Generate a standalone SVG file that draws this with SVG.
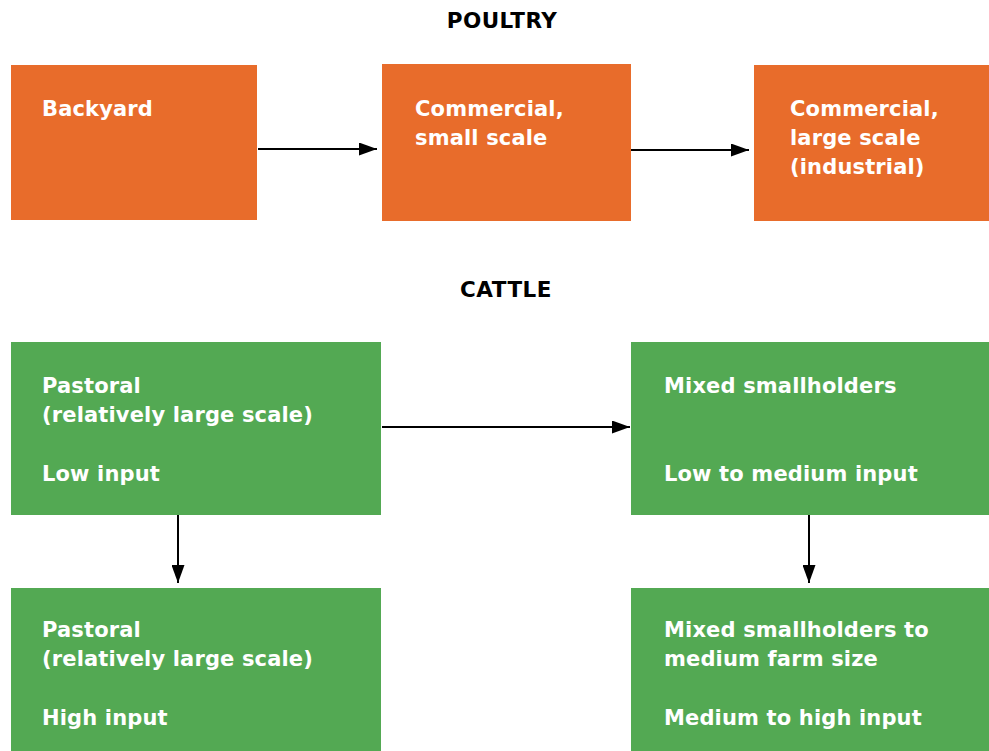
<svg xmlns="http://www.w3.org/2000/svg" width="989" height="751" viewBox="0 0 989 751">
<defs>
<style>
.t{font-family:"DejaVu Sans",Verdana,sans-serif;font-weight:bold;font-size:21px;letter-spacing:0.15px;fill:#ffffff}
.h{font-family:"DejaVu Sans",Verdana,sans-serif;font-weight:bold;font-size:21.5px;letter-spacing:0.5px;fill:#000000;text-anchor:middle}
.o{fill:#E86C2B}
.g{fill:#53A953}
.c{stroke:#000;stroke-width:2;fill:none;marker-end:url(#ah)}
</style>
<marker id="ah" viewBox="0 0 18 13" refX="18" refY="6.5" markerWidth="18" markerHeight="13" markerUnits="userSpaceOnUse" orient="auto"><path d="M0,0 L18,6.5 L0,13 z" fill="#000"/></marker>
</defs>
<rect width="989" height="751" fill="#fff"/>
<text class="h" x="502" y="28">POULTRY</text>
<text class="h" x="506" y="297">CATTLE</text>
<g id="backyard"><rect class="o" x="11" y="65" width="246" height="155"/><text class="t" x="42" y="116">Backyard</text></g>
<g id="commercial-small"><rect class="o" x="382" y="64" width="249" height="157"/><text class="t" x="415" y="116">Commercial,</text><text class="t" x="415" y="145">small scale</text></g>
<g id="commercial-large"><rect class="o" x="754" y="65" width="235" height="156"/><text class="t" x="790" y="116">Commercial,</text><text class="t" x="790" y="145">large scale</text><text class="t" x="790" y="174">(industrial)</text></g>
<g id="pastoral-low"><rect class="g" x="11" y="342" width="370" height="173"/><text class="t" x="42" y="393">Pastoral</text><text class="t" x="42" y="422">(relatively large scale)</text><text class="t" x="42" y="481">Low input</text></g>
<g id="mixed-low"><rect class="g" x="631" y="342" width="358" height="173"/><text class="t" x="664" y="393">Mixed smallholders</text><text class="t" x="664" y="481">Low to medium input</text></g>
<g id="pastoral-high"><rect class="g" x="11" y="588" width="370" height="163"/><text class="t" x="42" y="637">Pastoral</text><text class="t" x="42" y="666">(relatively large scale)</text><text class="t" x="42" y="725">High input</text></g>
<g id="mixed-high"><rect class="g" x="631" y="588" width="358" height="163"/><text class="t" x="664" y="637">Mixed smallholders to</text><text class="t" x="664" y="666">medium farm size</text><text class="t" x="664" y="725">Medium to high input</text></g>
<g id="connectors">
<path class="c" d="M258,149 L377,149"/>
<path class="c" d="M631,150 L749,150"/>
<path class="c" d="M382,427 L630,427"/>
<path class="c" d="M178,515 L178,583"/>
<path class="c" d="M809,515 L809,583"/>
</g>
</svg>
